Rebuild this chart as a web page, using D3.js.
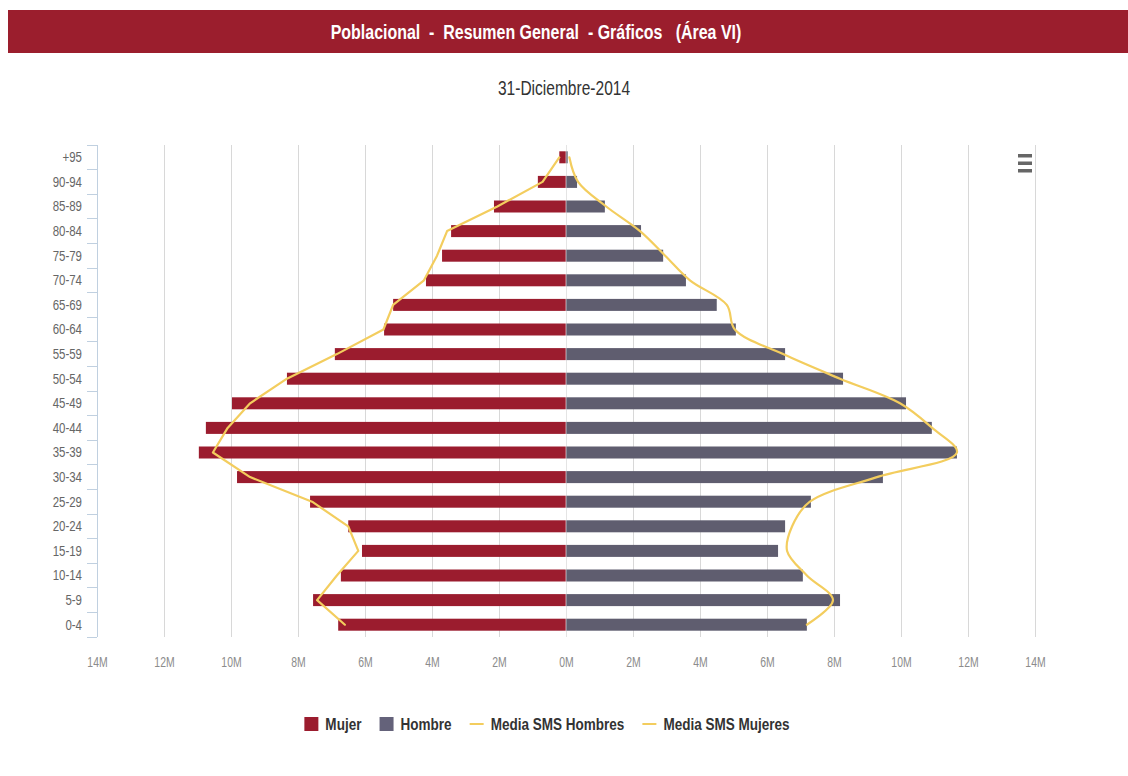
<!DOCTYPE html>
<html>
<head>
<meta charset="utf-8">
<script src="https://cdn.jsdelivr.net/npm/d3@7"></script>
<style>
  html, body { margin: 0; padding: 0; background: #fff; }
  svg { display: block; font-family: "Liberation Sans", Arial, sans-serif; }
</style>
</head>
<body>
<svg id="chart" width="1128" height="776"></svg>
<script>
// Age groups, oldest at the top
const ageGroups = ["+95", "90-94", "85-89", "80-84", "75-79", "70-74", "65-69", "60-64", "55-59",
  "50-54", "45-49", "40-44", "35-39", "30-34", "25-29", "20-24", "15-19", "10-14", "5-9", "0-4"];

// Population by group, in millions
const mujer  = [0.20, 0.84, 2.15, 3.43, 3.70, 4.18, 5.16, 5.43, 6.90, 8.33,
  9.97, 10.75, 10.96, 9.82, 7.64, 6.50, 6.09, 6.72, 7.55, 6.80];
const hombre = [0.05, 0.33, 1.16, 2.24, 2.90, 3.58, 4.50, 5.07, 6.54, 8.27,
  10.15, 10.92, 11.67, 9.46, 7.31, 6.54, 6.33, 7.07, 8.18, 7.19];

// Reference averages (SMS)
const mediaHombres = [0.10, 0.36, 1.20, 2.21, 2.96, 3.70, 4.80, 5.04, 6.48, 8.18,
  9.97, 10.93, 11.67, 9.28, 7.28, 6.75, 6.60, 7.19, 7.97, 7.19];
const mediaMujeres = [0.20, 0.70, 2.05, 3.55, 3.85, 4.24, 5.16, 5.45, 6.84, 8.33,
  9.43, 10.10, 10.54, 9.43, 7.58, 6.50, 6.20, 6.84, 7.43, 6.60];

const xTicks = [-14, -12, -10, -8, -6, -4, -2, 0, 2, 4, 6, 8, 10, 12, 14];

const titleText = "Poblacional  -  Resumen General  - Gráficos   (Área VI)";
const subtitleText = "31-Diciembre-2014";
const legendItems = [
  { name: "Mujer", kind: "box", color: "#9b1c2e" },
  { name: "Hombre", kind: "box", color: "#64627a" },
  { name: "Media SMS Hombres", kind: "line", color: "#f3cd5e" },
  { name: "Media SMS Mujeres", kind: "line", color: "#f3cd5e" }
];

const COLORS = { mujer: "#9b1c2e", hombre: "#5f5d6f", media: "#f3cd5e", grid: "#d8d8d8", axis: "#c0d0e0" };

const svg = d3.select("#chart");

const plot = { left: 97, right: 1035, top: 145, bottom: 637 };
const x = d3.scaleLinear().domain([-14, 14]).range([plot.left, plot.right]);
const y = d3.scaleBand().domain(ageGroups).range([plot.top, plot.bottom]);
const barH = 12;
const yc = g => y(g) + y.bandwidth() / 2;

// Header band
svg.append("rect").attr("x", 8).attr("y", 10).attr("width", 1120).attr("height", 43)
  .attr("fill", "#9b1e2d");
const title = svg.append("text")
  .attr("x", 0).attr("y", 0)
  .attr("text-anchor", "middle").attr("dominant-baseline", "central")
  .attr("fill", "#fff").attr("font-weight", "bold").attr("font-size", 21)
  .style("white-space", "pre").text(titleText);
const tw = title.node().getComputedTextLength();
title.attr("transform", `translate(536,32) scale(${411 / tw},1)`);

// Date subtitle
svg.append("text")
  .attr("transform", "translate(564,88) scale(0.74,1)")
  .attr("text-anchor", "middle").attr("dominant-baseline", "central")
  .attr("fill", "#333").attr("font-size", 21).text(subtitleText);

// Vertical grid lines
svg.append("g").selectAll("line").data(xTicks).join("line")
  .attr("x1", d => x(d)).attr("x2", d => x(d))
  .attr("y1", plot.top).attr("y2", plot.bottom)
  .attr("stroke", COLORS.grid).attr("stroke-width", 1)
  .attr("shape-rendering", "crispEdges");

// Category axis line and tick marks between groups
svg.append("line").attr("x1", plot.left).attr("x2", plot.left)
  .attr("y1", plot.top).attr("y2", plot.bottom)
  .attr("stroke", COLORS.axis).attr("shape-rendering", "crispEdges");
svg.append("g").selectAll("line").data(ageGroups.concat([null])).join("line")
  .attr("x1", plot.left - 10).attr("x2", plot.left)
  .attr("y1", d => d === null ? plot.bottom : y(d))
  .attr("y2", d => d === null ? plot.bottom : y(d))
  .attr("stroke", COLORS.axis).attr("shape-rendering", "crispEdges");

const yAxis = svg.append("g")
  .attr("transform", `translate(${plot.left},0)`)
  .call(d3.axisLeft(y).tickSize(0).tickPadding(15 / 0.74));
yAxis.select(".domain").remove();
yAxis.selectAll("text")
  .attr("transform", "scale(0.74,1)")
  .attr("fill", "#666").attr("font-size", 15.5)
  .attr("font-family", "'Liberation Sans', Arial, sans-serif");

const xAxis = svg.append("g")
  .attr("transform", `translate(0,${plot.bottom})`)
  .call(d3.axisBottom(x).tickValues(xTicks).tickSize(0).tickPadding(20)
    .tickFormat(d => Math.abs(d) + "M"));
xAxis.select(".domain").remove();
xAxis.selectAll("text")
  .attr("transform", "scale(0.72,1)")
  .attr("fill", "#8c8c8c").attr("font-size", 14.5)
  .attr("font-family", "'Liberation Sans', Arial, sans-serif");

// Bars
const bars = svg.append("g");
bars.selectAll("rect.mujer").data(ageGroups).join("rect").attr("class", "mujer")
  .attr("x", (g, i) => x(-mujer[i])).attr("width", (g, i) => x(0) - x(-mujer[i]))
  .attr("y", g => yc(g) - barH / 2).attr("height", barH)
  .attr("fill", COLORS.mujer);
bars.selectAll("rect.hombre").data(ageGroups).join("rect").attr("class", "hombre")
  .attr("x", x(0)).attr("width", (g, i) => x(hombre[i]) - x(0))
  .attr("y", g => yc(g) - barH / 2).attr("height", barH)
  .attr("fill", COLORS.hombre);
// thin separator at zero
svg.append("line").attr("x1", x(0)).attr("x2", x(0))
  .attr("y1", plot.top).attr("y2", plot.bottom)
  .attr("stroke", "#fff").attr("stroke-width", 1).attr("opacity", 0.6);

// Average lines
const lineM = d3.line().x((g, i) => x(-mediaMujeres[i])).y(g => yc(g)).curve(d3.curveLinear);
const lineH = d3.line().x((g, i) => x(mediaHombres[i])).y(g => yc(g)).curve(d3.curveCatmullRom.alpha(0.5));
svg.append("path").datum(ageGroups).attr("d", lineH)
  .attr("fill", "none").attr("stroke", COLORS.media).attr("stroke-width", 2.2)
  .attr("stroke-linejoin", "round").attr("stroke-linecap", "round");
svg.append("path").datum(ageGroups).attr("d", lineM)
  .attr("fill", "none").attr("stroke", COLORS.media).attr("stroke-width", 2.2)
  .attr("stroke-linejoin", "round").attr("stroke-linecap", "round");

// Export menu icon
svg.append("g").selectAll("rect").data([0, 1, 2]).join("rect")
  .attr("x", 1018).attr("y", d => 154 + d * 7.5).attr("width", 14).attr("height", 3.5)
  .attr("fill", "#666");

// Legend
const legend = svg.append("g");
const legendY = 724;
const itemsG = legend.selectAll("g").data(legendItems).join("g");
itemsG.each(function (d) {
  const g = d3.select(this);
  if (d.kind === "box") {
    g.append("rect").attr("x", 0).attr("y", -7).attr("width", 14).attr("height", 14).attr("fill", d.color);
  } else {
    g.append("line").attr("x1", 0).attr("x2", 14).attr("y1", 0).attr("y2", 0)
      .attr("stroke", d.color).attr("stroke-width", 2);
  }
  g.append("text").attr("transform", "translate(21,0) scale(0.82,1)")
    .attr("dominant-baseline", "central")
    .attr("fill", "#333").attr("font-weight", "bold").attr("font-size", 16.5).text(d.name);
});
let cursor = 0;
const offsets = [];
itemsG.each(function () {
  offsets.push(cursor);
  const w = this.getBBox().width;
  cursor += w + 18;
});
const total = cursor - 18;
const startX = 547 - total / 2;
itemsG.attr("transform", (d, i) => `translate(${startX + offsets[i]},${legendY})`);
</script>
</body>
</html>
